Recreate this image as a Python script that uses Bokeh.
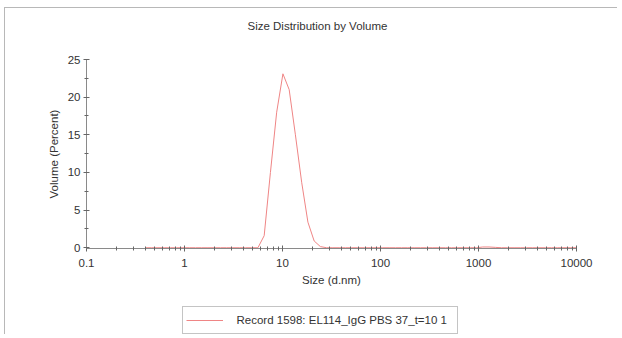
from bokeh.plotting import figure
from bokeh.layouts import column
from bokeh.models import (Range1d, LogTicker, SingleIntervalTicker, CustomJSTickFormatter,
                          Legend, LegendItem, Title)
from bokeh.embed import file_html
from bokeh.resources import INLINE

# Size classes (d.nm) and volume distribution (%)
size_nm = [0.4, 0.4632, 0.5365, 0.6213, 0.7195, 0.8332, 0.9649, 1.117, 1.294, 1.499,
           1.736, 2.010, 2.328, 2.696, 3.122, 3.615, 4.187, 4.849, 5.615, 6.503,
           7.531, 8.721, 10.10, 11.70, 13.54, 15.69, 18.17, 21.04, 24.36, 28.21,
           32.67, 37.84, 43.82, 50.75, 58.77, 68.06, 78.82, 91.28, 105.7, 122.4,
           141.8, 164.2, 190.1, 220.2, 255.0, 295.3, 342.0, 396.1, 458.7, 531.2,
           615.1, 712.4, 825.0, 955.4, 1106, 1281, 1484, 1718, 1990, 2305,
           2669, 3091, 3580, 4145, 4801, 5560, 6439, 7456, 8635, 10000]
volume_pct = [0, 0, 0, 0, 0, 0, 0, 0, 0, 0,
              0, 0, 0, 0, 0, 0, 0, 0, 0, 1.6,
              10.0, 18.0, 23.1, 21.0, 15.0, 8.7, 3.4, 0.9, 0.15, 0,
              0, 0, 0, 0, 0, 0, 0, 0, 0, 0,
              0, 0, 0, 0, 0, 0, 0, 0, 0, 0,
              0, 0, 0, 0, 0.1, 0.1, 0.05, 0, 0, 0,
              0, 0, 0, 0, 0, 0, 0, 0, 0, 0]
series_label = "Record 1598: EL114_IgG PBS 37_t=10 1"
title_text = "Size Distribution by Volume"
x_label = "Size (d.nm)"
y_label = "Volume (Percent)"

FONT = "Liberation Sans"
FS = "11.5px"
LINE_COLOR = "#ef8585"
TEXT_COLOR = "#333333"

p = figure(width=612, height=290, output_backend="svg", toolbar_location=None,
           x_axis_type="log", x_range=Range1d(0.1, 10000), y_range=Range1d(-0.1, 25),
           min_border_left=81, min_border_right=41, min_border_top=51, min_border_bottom=50)
p.background_fill_color = "white"
p.border_fill_color = "white"
p.outline_line_color = None
p.xgrid.visible = False
p.ygrid.visible = False

# spacer between the frame and the title
p.add_layout(Title(text=" ", text_font_size="1px", standoff=23), "above")
p.title.text = title_text
p.title.align = "left"
p.title.offset = 161
p.title.standoff = 4
p.title.text_font = FONT
p.title.text_font_size = FS
p.title.text_font_style = "normal"
p.title.text_color = TEXT_COLOR

p.line(size_nm, volume_pct, line_color=LINE_COLOR, line_width=1)

xa = p.xaxis[0]
xa.ticker = LogTicker(num_minor_ticks=10)
xa.formatter = CustomJSTickFormatter(code="return String(parseFloat(tick.toPrecision(6)));")
ya = p.yaxis[0]
ya.ticker = SingleIntervalTicker(interval=5, num_minor_ticks=2)

for ax, lab in ((xa, x_label), (ya, y_label)):
    ax.axis_label = lab
    ax.axis_label_text_font = FONT
    ax.axis_label_text_font_size = FS
    ax.axis_label_text_font_style = "normal"
    ax.axis_label_text_color = TEXT_COLOR
    ax.major_label_text_font = FONT
    ax.major_label_text_font_size = FS
    ax.major_label_text_color = TEXT_COLOR
    ax.axis_line_color = "#8a8a8a"
    ax.major_tick_line_color = "#666666"
    ax.minor_tick_line_color = "#666666"
    ax.major_tick_in = 3
    ax.major_tick_out = 3
    ax.minor_tick_in = 2
    ax.minor_tick_out = 2
xa.major_label_standoff = 7
xa.axis_label_standoff = 4
ya.major_label_standoff = 3
ya.axis_label_standoff = 5

# legend strip below the chart (the series is re-drawn there outside the visible range,
# only so that the legend can show its line sample)
p2 = figure(width=612, height=36, output_backend="svg", toolbar_location=None,
            x_axis_type="log", x_range=Range1d(0.1, 10000), y_range=Range1d(100, 101),
            min_border_left=0, min_border_right=0, min_border_top=0, min_border_bottom=0)
p2.axis.visible = False
p2.xgrid.visible = False
p2.ygrid.visible = False
p2.outline_line_color = None
p2.background_fill_color = "white"
p2.border_fill_color = "white"
proxy = p2.line(size_nm, volume_pct, line_color=LINE_COLOR, line_width=1)

legend = Legend(items=[LegendItem(label=series_label, renderers=[proxy])],
                location=(96, 0), orientation="vertical")
legend.padding = 3
legend.margin = 0
legend.glyph_width = 37
legend.glyph_height = 20
legend.label_standoff = 14
legend.label_width = 217
legend.label_text_font = FONT
legend.label_text_font_size = FS
legend.label_text_color = TEXT_COLOR
legend.border_line_color = "#8a8a8a"
legend.border_line_width = 1
legend.background_fill_color = "white"
legend.background_fill_alpha = 1
p2.add_layout(legend, "center")

layout = column(p, p2, spacing=0)
layout.styles = {"border-top": "1.5px solid #b8b8b8", "border-left": "1.5px solid #b8b8b8",
                 "margin-top": "6.5px", "margin-left": "3.5px"}

open("out.html", "w").write(file_html(layout, INLINE))
